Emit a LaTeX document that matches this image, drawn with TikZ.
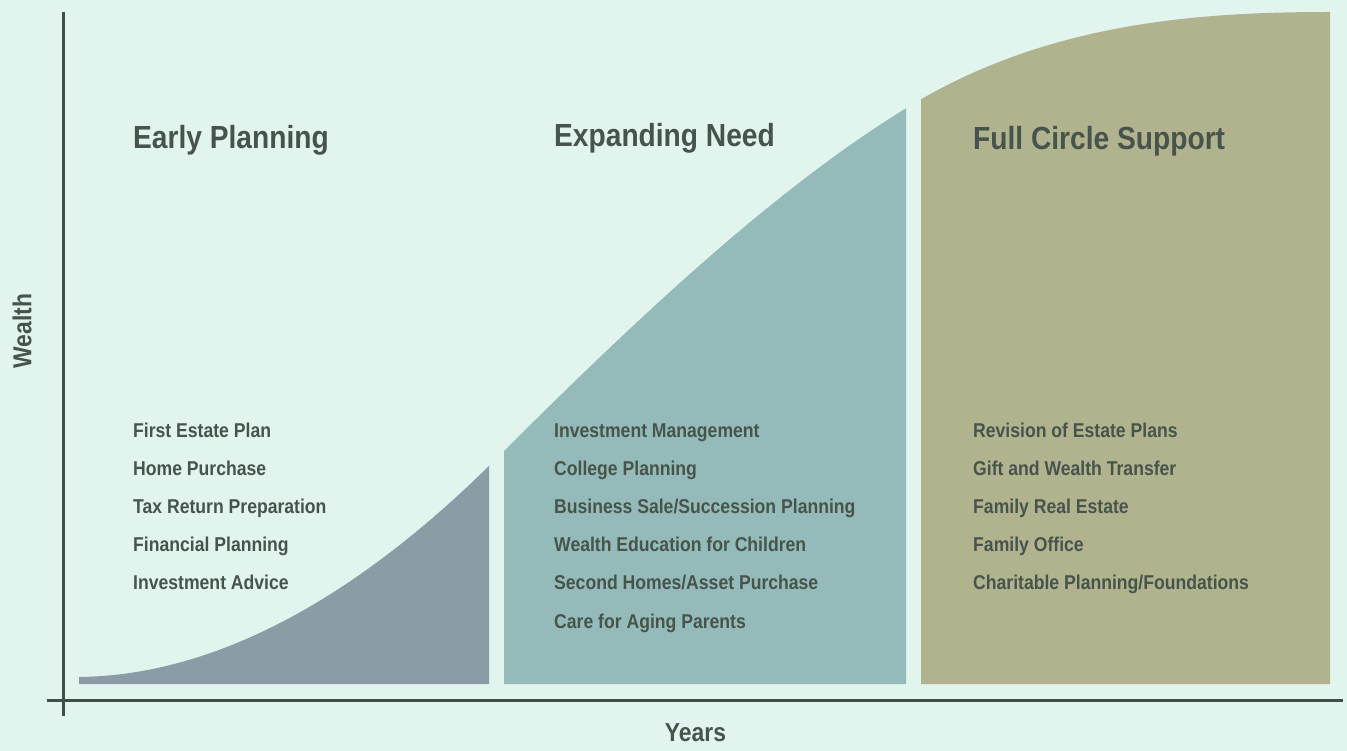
\documentclass[tikz,border=0pt]{standalone}
\usepackage{fontspec}
\setmainfont{Liberation Sans}[UprightFont=* Bold,FakeStretch=0.88]
\definecolor{bg}{HTML}{E2F4EE}
\definecolor{cone}{HTML}{8C9CA6}
\definecolor{ctwo}{HTML}{94BBB9}
\definecolor{cthree}{HTML}{B1B38F}
\definecolor{ink}{HTML}{46544B}
\definecolor{axis}{HTML}{3F4F45}
\tikzset{
  title/.style={anchor=base west,inner sep=0pt,text=ink,font=\fontsize{32}{36}\selectfont},
  item/.style={anchor=base west,inner sep=0pt,text=ink,font=\fontsize{20}{23}\selectfont},
  axlabel/.style={inner sep=0pt,text=ink,font=\fontsize{26}{30}\selectfont},
  axline/.style={draw=axis,line width=3pt}
}
\begin{document}
\begin{tikzpicture}[x=1pt,y=-1pt]
\fill[bg] (0,0) rectangle (1347,751);
\useasboundingbox (0,0) rectangle (1347,751);
\def\curve{(79,684) -- (79,677) .. controls (250,675) and (400,555) .. (497,458) .. controls (640,315) and (780,184) .. (913,104) .. controls (1050,22) and (1200,12) .. (1330,12) -- (1330,684) -- cycle}
\begin{scope}
  \clip (79,0) rectangle (489,684);
  \fill[cone] \curve;
\end{scope}
\begin{scope}
  \clip (504,0) rectangle (906,684);
  \fill[ctwo] \curve;
\end{scope}
\begin{scope}
  \clip (921,0) rectangle (1330,684);
  \fill[cthree] \curve;
\end{scope}
% axes
\coordinate (ytop) at (63,12);
\coordinate (ybot) at (63,716);
\coordinate (xl) at (47,700);
\coordinate (xr) at (1343,700);
\draw[axline] (ytop) -- (ybot);
\draw[axline] (xl) -- (xr);
\node[axlabel,rotate=90] (wealth) at (22,331) {Wealth};
\node[axlabel] (years) at (695.5,733) {Years};
% titles
\node[title] (t1) at (133,149) {Early Planning};
\node[title] (t2) at (554,147) {Expanding Need};
\node[title] (t3) at (973,150) {Full Circle Support};
% column 1
\node[item] (a1) at (133,437) {First Estate Plan};
\node[item] (a2) at (133,475) {Home Purchase};
\node[item] (a3) at (133,513) {Tax Return Preparation};
\node[item] (a4) at (133,551) {Financial Planning};
\node[item] (a5) at (133,589) {Investment Advice};
% column 2
\node[item] (b1) at (554,437) {Investment Management};
\node[item] (b2) at (554,475) {College Planning};
\node[item] (b3) at (554,513) {Business Sale/Succession Planning};
\node[item] (b4) at (554,551) {Wealth Education for Children};
\node[item] (b5) at (554,589) {Second Homes/Asset Purchase};
\node[item] (b6) at (554,628) {Care for Aging Parents};
% column 3
\node[item] (c1) at (973,437) {Revision of Estate Plans};
\node[item] (c2) at (973,475) {Gift and Wealth Transfer};
\node[item] (c3) at (973,513) {Family Real Estate};
\node[item] (c4) at (973,551) {Family Office};
\node[item] (c5) at (973,589) {Charitable Planning/Foundations};
\end{tikzpicture}
\end{document}
